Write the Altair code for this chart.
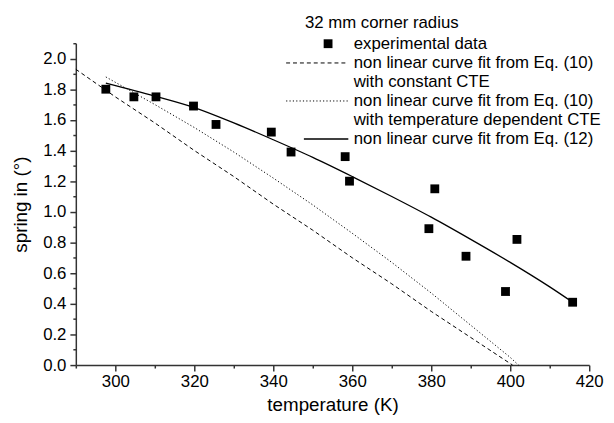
import altair as alt
import pandas as pd

# ---- data ----
exp_temp = [297.6, 304.7, 310.3, 319.8, 325.5, 339.5, 344.5, 358.2, 359.3,
            379.4, 380.9, 388.8, 398.8, 401.7, 415.8]
exp_spring = [1.80, 1.75, 1.75, 1.69, 1.57, 1.52, 1.39, 1.36, 1.20,
              0.89, 1.15, 0.71, 0.48, 0.82, 0.41]

const_temp = [290, 300, 310, 320, 330, 340, 350, 360, 370, 380, 390, 400, 400.6]
const_spring = [1.93, 1.75, 1.58, 1.40, 1.23, 1.05, 0.88, 0.70, 0.53, 0.35, 0.18, 0.01, 0.0]

tdep_temp = [297.6, 310, 320, 330, 340, 350, 360, 370, 380, 390, 400, 402.1]
tdep_spring = [1.88, 1.70, 1.55, 1.39, 1.22, 1.045, 0.86, 0.67, 0.47, 0.26, 0.05, 0.0]

eq12_temp = [297.6, 310, 320, 330, 340, 350, 360, 370, 380, 390, 400, 410, 415.8]
eq12_spring = [1.84, 1.755, 1.68, 1.58, 1.47, 1.355, 1.23, 1.10, 0.965, 0.82, 0.67, 0.51, 0.41]

x_major = [300, 320, 340, 360, 380, 400, 420]
x_minor = [290, 310, 330, 350, 370, 390, 410]
y_major = [0.0, 0.2, 0.4, 0.6, 0.8, 1.0, 1.2, 1.4, 1.6, 1.8, 2.0]
y_minor = [0.1, 0.3, 0.5, 0.7, 0.9, 1.1, 1.3, 1.5, 1.7, 1.9, 2.1]

legend_title = "32 mm corner radius"
legend_labels = ["experimental data",
                 "non linear curve fit from Eq. (10)",
                 "with constant CTE",
                 "non linear curve fit from Eq. (10)",
                 "with temperature dependent CTE",
                 "non linear curve fit from Eq. (12)"]

FONT = "Liberation Sans"
INK = "#000000"
AX = "#333333"

xs = alt.Scale(domain=[290, 420], nice=False, zero=False)
ys = alt.Scale(domain=[0, 2.1], nice=False, zero=False)

common = dict(grid=False, domainColor=AX, tickColor=AX, domainWidth=1.5, tickWidth=1.5,
              labelFont=FONT, labelFontSize=17, labelColor=INK,
              titleFont=FONT, titleFontSize=19, titleFontWeight="normal", titleColor=INK,
              labelFlush=False)

x_axis = alt.Axis(values=x_major, title="temperature (K)", orient="bottom",
                  tickSize=6, labelPadding=3, titlePadding=6, **common)
y_axis = alt.Axis(values=y_major, title="spring in (°)", orient="left",
                  tickSize=6, labelPadding=4, titlePadding=12, format=".1f", **common)

x_axis_minor = alt.Axis(values=x_minor, orient="bottom", title="", labels=False,
                        domain=False, tickSize=3, tickWidth=1.5, tickColor=AX, grid=False)
y_axis_minor = alt.Axis(values=y_minor, orient="left", title="", labels=False,
                        domain=False, tickSize=3, tickWidth=1.5, tickColor=AX, grid=False)

df_exp = pd.DataFrame({"T": exp_temp, "S": exp_spring})
df_const = pd.DataFrame({"T": const_temp, "S": const_spring})
df_tdep = pd.DataFrame({"T": tdep_temp, "S": tdep_spring})
df_eq12 = pd.DataFrame({"T": eq12_temp, "S": eq12_spring})

line_const = alt.Chart(df_const).mark_line(color=INK, strokeWidth=1, strokeDash=[4, 3]).encode(
    x=alt.X("T:Q", scale=xs, axis=x_axis), y=alt.Y("S:Q", scale=ys, axis=y_axis))
line_tdep = alt.Chart(df_tdep).mark_line(color=INK, strokeWidth=1, strokeDash=[1.2, 2.2]).encode(
    x=alt.X("T:Q", scale=xs, axis=x_axis), y=alt.Y("S:Q", scale=ys, axis=y_axis))
line_eq12 = alt.Chart(df_eq12).mark_line(color=INK, strokeWidth=1.3, interpolate="monotone").encode(
    x=alt.X("T:Q", scale=xs, axis=x_axis), y=alt.Y("S:Q", scale=ys, axis=y_axis))
pts = alt.Chart(df_exp).mark_square(color=INK, size=80, opacity=1).encode(
    x=alt.X("T:Q", scale=xs, axis=x_axis), y=alt.Y("S:Q", scale=ys, axis=y_axis))

main = alt.layer(line_const, line_tdep, line_eq12, pts)

minor = alt.Chart(df_exp).mark_point(opacity=0).encode(
    x=alt.X("T:Q", scale=xs, axis=x_axis_minor), y=alt.Y("S:Q", scale=ys, axis=y_axis_minor))

one = alt.Data(values=[{"k": 1}])

def txt(label, x, y):
    return alt.Chart(one).mark_text(align="left", baseline="middle", font=FONT,
                                    fontSize=17, color=INK).encode(
        x=alt.value(x), y=alt.value(y), text=alt.value(label))

def sample(x1, x2, y, dash=None, w=1.0):
    kw = dict(color=INK, strokeWidth=w)
    if dash:
        kw["strokeDash"] = dash
    return alt.Chart(one).mark_rule(**kw).encode(x=alt.value(x1), x2=alt.value(x2), y=alt.value(y))

TX = 281.5
legend = alt.layer(
    txt(legend_title, 232, -20),
    alt.Chart(one).mark_square(color=INK, size=80, opacity=1).encode(x=alt.value(255.5), y=alt.value(0.5)),
    txt(legend_labels[0], TX, 0.5),
    sample(213, 276, 20, [4, 3]),
    txt(legend_labels[1], TX, 20),
    txt(legend_labels[2], TX, 39),
    sample(213, 276, 58.5, [1.2, 2.2]),
    txt(legend_labels[3], TX, 58.5),
    txt(legend_labels[4], TX, 78),
    sample(231, 276, 97, None, 1.3),
    txt(legend_labels[5], TX, 97),
)

chart = alt.layer(minor, main, legend).resolve_axis(
    x="independent", y="independent"
).properties(
    width=520, height=326,
    autosize=alt.AutoSizeParams(type="none"),
    padding={"left": 68.7, "top": 33, "right": 17, "bottom": 56},
).configure_view(strokeOpacity=0)

chart.save("out.html", embed_options={"renderer": "svg", "actions": False})
